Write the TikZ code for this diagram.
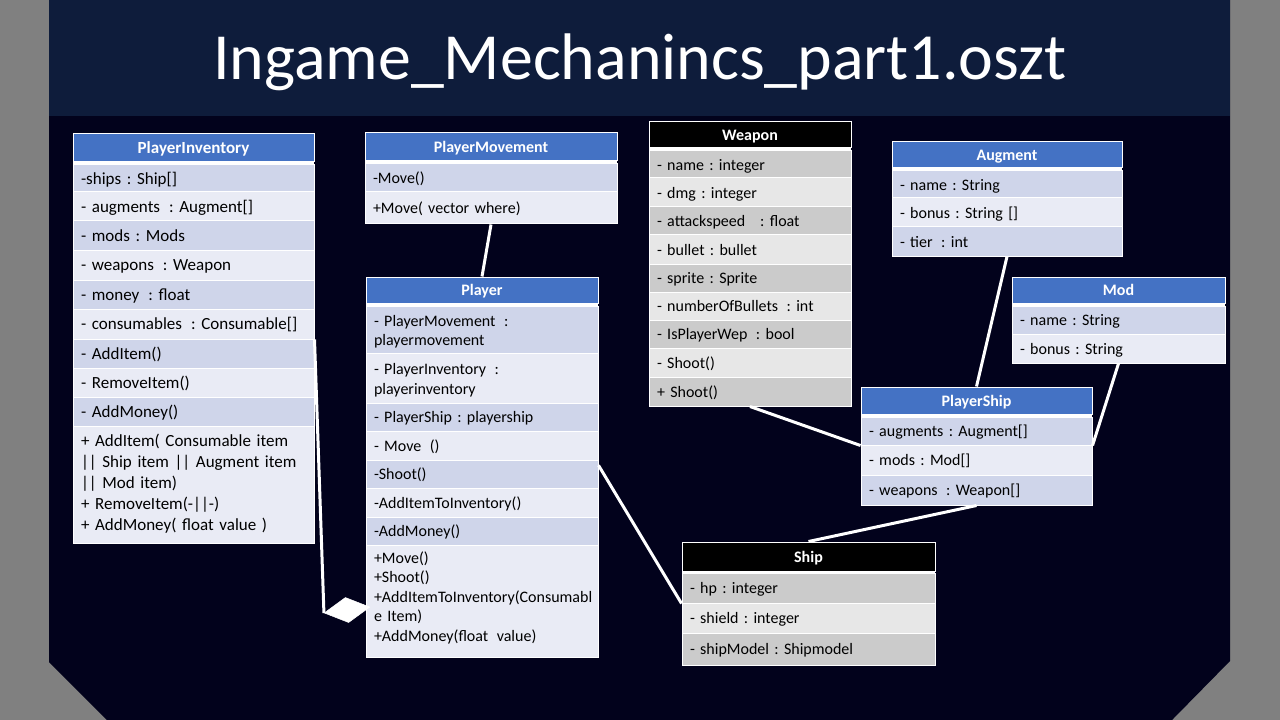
\documentclass[tikz,border=0pt]{standalone}
\usepackage{fontspec}
\setmainfont{Carlito}
\usetikzlibrary{calc,shapes.geometric}
\definecolor{slidegray}{HTML}{808080}
\definecolor{slidebody}{HTML}{02021C}
\definecolor{titleband}{HTML}{0E1C3B}
\definecolor{hdrblue}{HTML}{4472C4}
\definecolor{rowdark}{HTML}{CFD5EA}
\definecolor{rowlight}{HTML}{E9EBF5}
\definecolor{graydark}{HTML}{CBCBCB}
\definecolor{graylight}{HTML}{E7E7E7}
\newcommand\umlcell[7]{%
  \pgfmathsetmacro\ucW{(#4-#2)*0.75}%
  \pgfmathsetmacro\ucH{(#5-#3)*0.75}%
  \pgfmathsetmacro\ucT{(#4-#2)*0.75-12}%
  \node[cellbase,#6,minimum width=\ucW pt,minimum height=\ucH pt,text width=\ucT pt] (#1) at ({(#2+#4)/2},{(#3+#5)/2}) {#7};}
\newcommand\tablebg[4]{\fill[white] (#1,#2) rectangle (#3,#4);}
\newcommand\xs{\hspace{0.2em}}
\newcommand\lowpad[1]{\rule[-#1]{0pt}{0pt}}
\begin{document}
\frenchspacing
\begin{tikzpicture}[x=0.75pt,y=-0.75pt,
  cellbase/.style={draw=white, line width=0.75pt, inner xsep=6pt, inner ysep=0pt, align=left, text=black,
    font=\fontsize{12}{14.6}\selectfont, execute at begin node={\rule[-2.9pt]{0pt}{14.6pt}}},
  hdr/.style={align=center, text=white, font=\bfseries\fontsize{12}{14.6}\selectfont},
  bighdr/.style={align=center, text=white, font=\bfseries\fontsize{12.75}{15.5}\selectfont},
  big/.style={font=\fontsize{12.75}{15.75}\selectfont},
  bl/.style={fill=hdrblue}, bk/.style={fill=black},
  dk/.style={fill=rowdark}, lt/.style={fill=rowlight},
  gd/.style={fill=graydark}, gl/.style={fill=graylight},
  conn/.style={draw=white, line width=2.25pt},
  aggr/.style={diamond, draw=white, fill=white, inner sep=0pt, minimum width=34.5pt, minimum height=19pt, rotate=7.4}
]
\useasboundingbox (0,0) rectangle (1280,720);
\fill[slidegray] (0,0) rectangle (1280,720);
\fill[slidebody] (49,0) -- (1230,0) -- (1230,661) -- (1172,720) -- (107,720) -- (49,662) -- cycle;
\fill[titleband] (49,0) rectangle (1230,116);
\node[anchor=base, text=white, font=\fontsize{49.4}{58}\selectfont, inner sep=0pt] (title) at (640,80) {Ingame\_Mechanincs\_part1.oszt};

% PlayerInventory
\tablebg{73}{134}{314}{543}
\umlcell{pihead}{73}{134}{314}{162}{bl,bighdr}{PlayerInventory}
\umlcell{piships}{73}{165}{314}{192}{dk,big}{-ships : Ship[]}
\umlcell{piaug}{73}{192}{314}{221}{lt,big}{- augments\xs{} : Augment[]}
\umlcell{pimods}{73}{221}{314}{250}{dk,big}{- mods : Mods}
\umlcell{piweap}{73}{250}{314}{280}{lt,big}{- weapons\xs{} : Weapon}
\umlcell{pimoney}{73}{280}{314}{309}{dk,big}{- money\xs{} : float}
\umlcell{picons}{73}{309}{314}{339}{lt,big}{- consumables\xs{} : Consumable[]}
\umlcell{piadd}{73}{339}{314}{368}{dk,big}{- AddItem()}
\umlcell{pirem}{73}{368}{314}{397}{lt,big}{- RemoveItem()}
\umlcell{pimon}{73}{397}{314}{426}{dk,big}{- AddMoney()}
\umlcell{piops}{73}{426}{314}{543}{lt,big}{+ AddItem( Consumable item\\|| Ship item || Augment item\\|| Mod item)\\+ RemoveItem(-||-)\\+ AddMoney( float value )\lowpad{5.5pt}}

% PlayerMovement
\tablebg{365}{133}{617}{224}
\umlcell{pmhead}{365}{133}{617}{161}{bl,hdr}{PlayerMovement}
\umlcell{pmmove}{365}{164}{617}{192}{dk}{-Move()}
\umlcell{pmpub}{365}{192}{617}{224}{lt}{+Move( vector where)}

% Player
\tablebg{366}{277}{598}{657}
\umlcell{plhead}{366}{277}{598}{303}{bl,hdr}{Player}
\umlcell{plpm}{366}{306}{598}{353}{dk}{- PlayerMovement\xs{} :\\playermovement}
\umlcell{plpi}{366}{353}{598}{403}{lt}{- PlayerInventory\xs{} :\\playerinventory}
\umlcell{plps}{366}{403}{598}{431}{dk}{- PlayerShip : playership}
\umlcell{plmove}{366}{431}{598}{460}{lt}{- Move\xs{} ()}
\umlcell{plshoot}{366}{460}{598}{488}{dk}{-Shoot()}
\umlcell{pladd}{366}{488}{598}{517}{lt}{-AddItemToInventory()}
\umlcell{plmon}{366}{517}{598}{545}{dk}{-AddMoney()}
\umlcell{plops}{366}{545}{598}{657}{lt}{+Move()\\+Shoot()\\+AddItemToInventory(Consumabl\\e Item)\\+AddMoney(float\xs{} value)\lowpad{10pt}}

% Weapon
\tablebg{649}{122}{851}{406}
\umlcell{whead}{649}{122}{851}{148}{bk,hdr}{Weapon}
\umlcell{wname}{649}{151}{851}{178}{gd}{- name : integer}
\umlcell{wdmg}{649}{178}{851}{207}{gl}{- dmg : integer}
\umlcell{wspd}{649}{207}{851}{235}{gd}{- attackspeed\hspace{0.6em} : float}
\umlcell{wbul}{649}{235}{851}{264}{gl}{- bullet : bullet}
\umlcell{wspr}{649}{264}{851}{292}{gd}{- sprite : Sprite}
\umlcell{wnum}{649}{292}{851}{320}{gl}{- numberOfBullets\xs{} : int}
\umlcell{wisp}{649}{320}{851}{348}{gd}{- IsPlayerWep\xs{} : bool}
\umlcell{wshpriv}{649}{348}{851}{377}{gl}{- Shoot()}
\umlcell{wshpub}{649}{377}{851}{406}{gd}{+ Shoot()}

% Augment
\tablebg{892}{142}{1122}{256}
\umlcell{auhead}{892}{142}{1122}{168}{bl,hdr}{Augment}
\umlcell{auname}{892}{171}{1122}{198}{dk}{- name : String}
\umlcell{aubonus}{892}{198}{1122}{227}{lt}{- bonus : String []}
\umlcell{autier}{892}{227}{1122}{256}{dk}{- tier\xs{} : int}

% Mod
\tablebg{1012}{277}{1225}{363}
\umlcell{mohead}{1012}{277}{1225}{303}{bl,hdr}{Mod}
\umlcell{moname}{1012}{306}{1225}{334}{dk}{- name : String}
\umlcell{mobonus}{1012}{334}{1225}{363}{lt}{- bonus : String}

% PlayerShip
\tablebg{861}{387}{1092}{505}
\umlcell{pshead}{861}{387}{1092}{414}{bl,hdr}{PlayerShip}
\umlcell{psaug}{861}{417}{1092}{445}{dk}{- augments : Augment[]}
\umlcell{psmods}{861}{445}{1092}{475}{lt}{- mods : Mod[]}
\umlcell{psweap}{861}{475}{1092}{505}{dk}{- weapons\xs{} : Weapon[]}

% Ship
\tablebg{682}{542}{935}{665}
\umlcell{shhead}{682}{542}{935}{571}{bk,hdr}{Ship}
\umlcell{shhp}{682}{573}{935}{603}{gd}{- hp : integer}
\umlcell{shshield}{682}{603}{935}{633}{gl}{- shield : integer}
\umlcell{shmodel}{682}{633}{935}{665}{gd}{- shipModel : Shipmodel}

% connectors
\node[aggr] (dia) at (347,610) {};
\draw[conn] (picons.south east) -- (dia.west);
\draw[conn] (pmpub.south) -- (plhead.north);
\draw[conn] ($(plshoot.north east)!0.2!(plshoot.south east)$) -- (shhp.south west);
\draw[conn] (wshpub.south) -- (psaug.south west);
\draw[conn] (autier.south) -- (pshead.north);
\draw[conn] (mobonus.south) -- (psaug.south east);
\draw[conn] (psweap.south) -- (shhead.north);
\end{tikzpicture}
\end{document}
